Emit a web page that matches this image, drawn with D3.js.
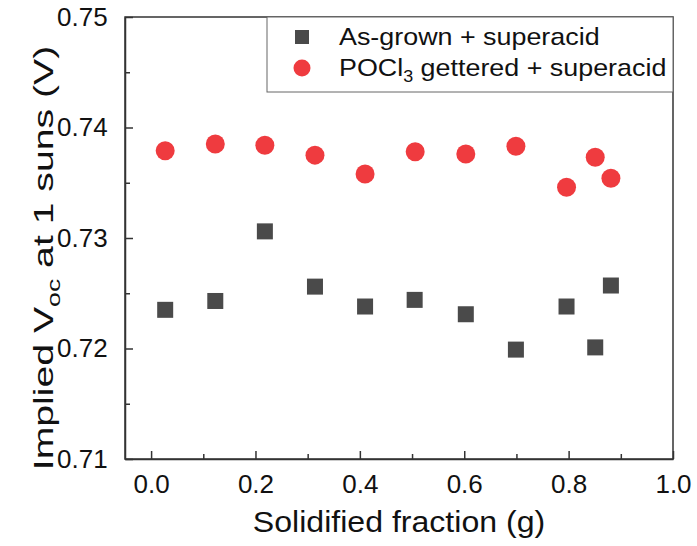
<!DOCTYPE html>
<html lang="en">
<head>
<meta charset="UTF-8">
<title>Implied Voc vs solidified fraction</title>
<script src="https://d3js.org/d3.v7.min.js"></script>
<style>
  body { margin: 0; background: white; }
  svg { display: block; font-family: "Liberation Sans", Arial, sans-serif; }
</style>
</head>
<body>
<svg id="chart" width="697" height="546"></svg>
<script>
// data
const asGrownX = [0.027, 0.123, 0.218, 0.314, 0.410, 0.505, 0.603, 0.699, 0.796, 0.851, 0.881];
const asGrownY = [0.7235, 0.7243, 0.7306, 0.7256, 0.7238, 0.7244, 0.7231, 0.7199, 0.7238, 0.7201, 0.7257];
const gettX    = [0.027, 0.123, 0.218, 0.314, 0.410, 0.506, 0.603, 0.699, 0.796, 0.851, 0.881];
const gettY    = [0.7379, 0.7385, 0.7384, 0.7375, 0.7358, 0.7378, 0.7376, 0.7383, 0.7346, 0.7373, 0.7354];
const xTicks = [0.0, 0.2, 0.4, 0.6, 0.8, 1.0];
const xMinor = [0.1, 0.3, 0.5, 0.7, 0.9];
const yTicks = [0.71, 0.72, 0.73, 0.74, 0.75];
const yMinor = [0.715, 0.725, 0.735, 0.745];

const svg = d3.select("#chart");
const m = { left: 125, right: 673, top: 17, bottom: 459 };

const x = d3.scaleLinear().domain([-0.05, 1.0]).range([m.left, m.right]);
const y = d3.scaleLinear().domain([0.71, 0.75]).range([m.bottom, m.top]);

const axisCol = "#333";

// frame
svg.append("rect")
  .attr("x", m.left).attr("y", m.top)
  .attr("width", m.right - m.left).attr("height", m.bottom - m.top)
  .attr("fill", "none").attr("stroke", axisCol).attr("stroke-width", 1.5);

// bottom axis, ticks pointing inside
const xAxis = svg.append("g").attr("transform", `translate(0,${m.bottom})`)
  .call(d3.axisBottom(x).tickValues(xTicks).tickFormat(d3.format(".1f")).tickSizeInner(-8).tickSizeOuter(0));
svg.append("g").attr("transform", `translate(0,${m.bottom})`)
  .call(d3.axisBottom(x).tickValues(xMinor).tickFormat("").tickSizeInner(-5).tickSizeOuter(0))
  .call(g => g.select(".domain").remove());

const yAxis = svg.append("g").attr("transform", `translate(${m.left},0)`)
  .call(d3.axisLeft(y).tickValues(yTicks).tickFormat(d3.format(".2f")).tickSizeInner(-8).tickSizeOuter(0).tickPadding(16));
svg.append("g").attr("transform", `translate(${m.left},0)`)
  .call(d3.axisLeft(y).tickValues(yMinor).tickFormat("").tickSizeInner(-5).tickSizeOuter(0))
  .call(g => g.select(".domain").remove());

svg.selectAll(".tick line").attr("stroke", axisCol).attr("stroke-width", 1.5);
svg.selectAll(".domain").attr("stroke", axisCol).attr("stroke-width", 1.5);
svg.selectAll(".tick text").attr("font-size", 26).attr("fill", "#111")
  .attr("font-family", "'Liberation Sans', Arial, sans-serif");
xAxis.selectAll(".tick text").attr("y", 34).attr("dy", 0);
yAxis.selectAll(".tick text").attr("dx", "-0.05em");

// axis titles (glyphs in the source are stretched along the text direction)
svg.append("text")
  .attr("transform", `translate(${(m.left + m.right) / 2},532) scale(1.07,1)`)
  .attr("text-anchor", "middle").attr("font-size", 30).attr("fill", "#111")
  .text("Solidified fraction (g)");

const yt = svg.append("text")
  .attr("transform", `translate(53,258) rotate(-90) scale(1.4,1)`)
  .attr("text-anchor", "middle").attr("font-size", 28).attr("fill", "#111");
yt.append("tspan").text("Implied V");
yt.append("tspan").attr("font-size", 19).attr("dy", 7).text("oc");
yt.append("tspan").attr("dy", -7).text(" at 1 suns (V)");

// data marks
const sq = 16;
svg.append("g").selectAll("rect")
  .data(asGrownX.map((d, i) => [d, asGrownY[i]]))
  .join("rect")
  .attr("x", d => x(d[0]) - sq / 2).attr("y", d => y(d[1]) - sq / 2)
  .attr("width", sq).attr("height", sq)
  .attr("fill", "#4a4a4a");

svg.append("g").selectAll("circle")
  .data(gettX.map((d, i) => [d, gettY[i]]))
  .join("circle")
  .attr("cx", d => x(d[0])).attr("cy", d => y(d[1]))
  .attr("r", 9.5)
  .attr("fill", "#ef3b3f");

// legend
const lg = svg.append("g");
lg.append("rect")
  .attr("x", 267).attr("y", m.top).attr("width", m.right - 267).attr("height", 75)
  .attr("fill", "white").attr("stroke", "#666").attr("stroke-width", 1);
lg.append("rect").attr("x", 302 - 7).attr("y", 37 - 7).attr("width", 14).attr("height", 14).attr("fill", "#4a4a4a");
lg.append("circle").attr("cx", 302).attr("cy", 68).attr("r", 8.5).attr("fill", "#ef3b3f");
lg.append("text").attr("transform", "translate(339,45) scale(1.12,1)")
  .attr("font-size", 24).attr("fill", "#111")
  .text("As-grown + superacid");
const t2 = lg.append("text").attr("transform", "translate(339,76) scale(1.12,1)")
  .attr("font-size", 24).attr("fill", "#111");
t2.append("tspan").text("POCl");
t2.append("tspan").attr("font-size", 16).attr("dy", 6).text("3");
t2.append("tspan").attr("dy", -6).text(" gettered + superacid");
</script>
</body>
</html>
